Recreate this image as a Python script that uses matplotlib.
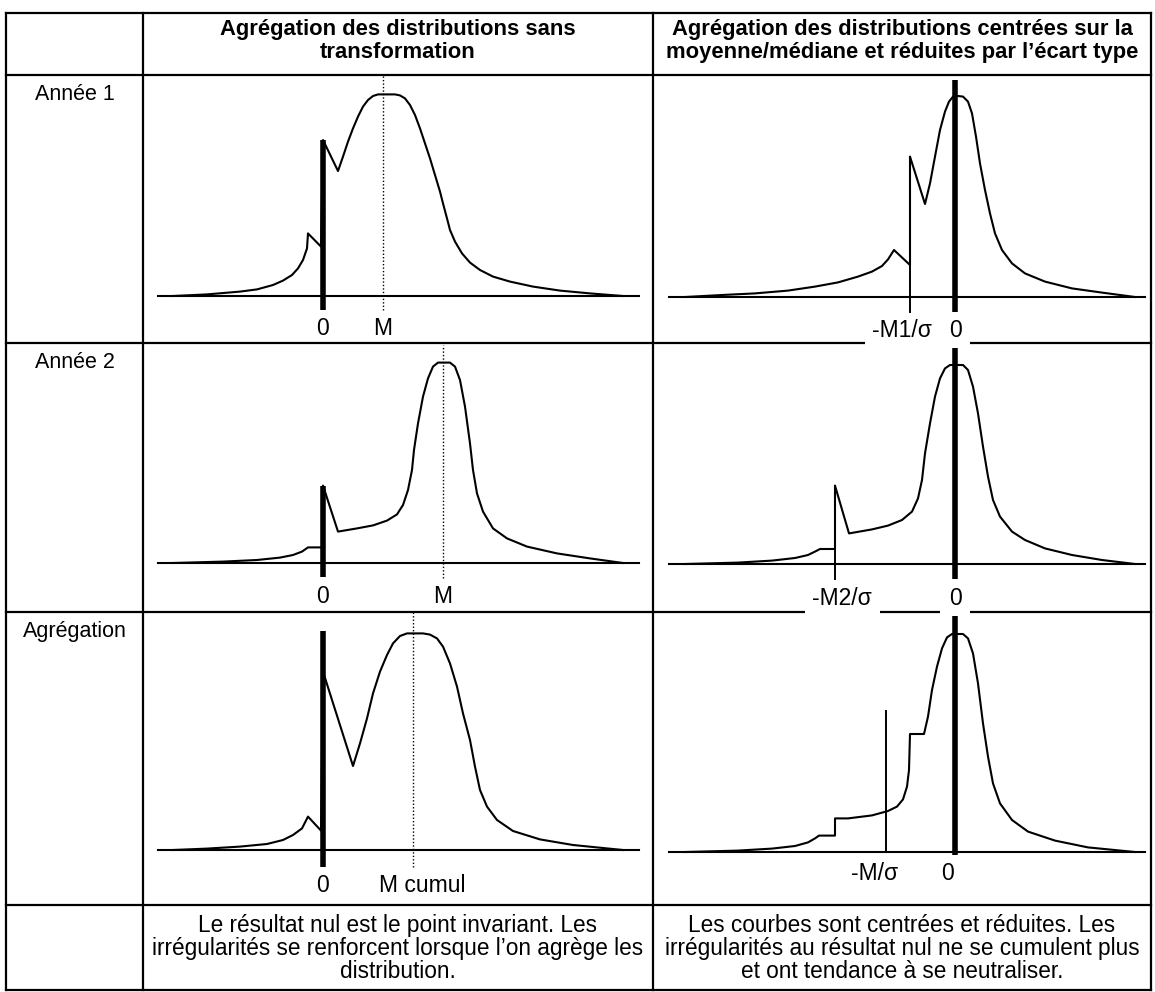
import matplotlib.pyplot as plt
from matplotlib.patches import Rectangle

plt.rcParams['font.family'] = ['Liberation Sans', 'DejaVu Sans']

# ---- textes du tableau
col_titles = [["Agrégation des distributions sans", "transformation"],
              ["Agrégation des distributions centrées sur la",
               "moyenne/médiane et réduites par l’écart type"]]
row_titles = ["Année 1", "Année 2", "Agrégation"]
footer_left = ["Le résultat nul est le point invariant. Les",
               "irrégularités se renforcent lorsque l’on agrège les",
               "distribution."]
footer_right = ["Les courbes sont centrées et réduites. Les",
                "irrégularités au résultat nul ne se cumulent plus",
                "et ont tendance à se neutraliser."]

# ---- courbes (x : 0 = résultat nul, y : densité, sommet ~100)
an1_brut_x = [-15.0, -11.6, -8.3, -6.6, -5.0, -4.0, -3.1, -2.5, -2.0, -1.6, -1.5, -0.2, 0.0,
              1.5, 2.0, 2.5, 3.0, 3.5, 4.0, 4.5, 5.0, 5.5, 7.2, 7.7, 8.2, 8.7, 9.2, 9.7, 10.2,
              10.7, 11.2, 11.7, 12.0, 12.4, 12.7, 13.2, 13.9, 14.7, 15.7, 17.0, 18.7, 21.0,
              23.7, 26.7, 30.0]
an1_brut_y = [0, 0.8, 2.2, 3.3, 5.5, 7.7, 10.5, 13.8, 18, 23.8, 31.3, 24.7, 78,
              62.5, 69.7, 77.2, 83.8, 89.7, 94.7, 98, 100, 100.8, 100.8, 100.3, 98.8, 95.5, 90.5,
              83.8, 76.3, 68.8, 60.5, 52.2, 46.3, 38.8, 33, 27.2, 21.3, 16.7, 13, 9.7, 7.2, 4.7,
              2.7, 1.3, 0]

an1_cr_x = [-27.0, -23.3, -20.0, -16.7, -14.0, -11.7, -9.7, -8.3, -7.3, -6.7, -6.1, -4.5, -4.5,
            -3.0, -2.5, -2.0, -1.5, -1.0, -0.6, -0.2, 0.3, 0.8, 1.3, 1.7, 2.1, 2.5, 3.0, 3.5,
            4.0, 4.7, 5.7, 7.0, 9.0, 11.7, 14.7, 18.0]
an1_cr_y = [0, 1, 1.8, 3.2, 5.2, 7.3, 10.2, 12.7, 15.5, 18.8, 23.5, 16, 70.2,
            46.5, 56.8, 70.2, 83.5, 92.7, 97.7, 100.2, 100.5, 100.2, 97.7, 91.8, 80.2, 66.8,
            53.5, 41.8, 31.8, 23.5, 16.8, 11.8, 7.7, 4.3, 2.2, 0]

an2_brut_x = [-15.0, -10.0, -6.6, -4.3, -3.0, -2.1, -1.5, -0.1, 0.0, 1.5, 3.4, 5.0, 6.4, 7.4,
              8.0, 8.5, 8.9, 9.1, 9.5, 10.0, 10.5, 11.0, 11.5, 12.7, 13.2, 13.7, 14.2, 14.7,
              15.0, 15.4, 16.0, 17.0, 18.4, 20.4, 23.4, 26.7, 30.0]
an2_brut_y = [0, 0.7, 1.5, 2.7, 4, 5.7, 7.8, 7.8, 38.7, 15.7, 17.3, 18.8, 21.2, 24.3,
              29, 36.5, 46.5, 56.5, 69.8, 83.2, 92.3, 98.2, 100.2, 100.2, 98.2, 91.5, 78.2, 59.8,
              46.5, 34.8, 25.7, 17.3, 12.3, 8.2, 4.8, 2.3, 0]

an2_cr_x = [-27.0, -21.7, -18.3, -16.0, -14.7, -14.0, -13.5, -12.0, -12.0, -10.6, -8.3, -6.7,
            -5.3, -4.3, -3.7, -3.3, -3.0, -2.5, -2.0, -1.5, -1.0, -0.5, 0.8, 1.3, 1.8, 2.3, 2.8,
            3.3, 3.8, 4.5, 5.7, 7.0, 9.0, 11.7, 14.7, 18.0]
an2_cr_y = [0, 0.7, 1.7, 3, 4.5, 6.2, 7.5, 7.5, 39.2, 15.3, 17.3, 19.2,
            22, 26.2, 32.8, 42, 55.3, 70.3, 83.7, 92.8, 97.8, 99.5, 99.5, 97, 88.7, 75.3, 58.7,
            43.7, 32, 23.7, 16.2, 12, 7.8, 4.5, 2, 0]

agr_brut_x = [-15.0, -11.6, -8.3, -5.6, -4.0, -3.0, -2.1, -1.5, -0.2, 0.0, 3.0, 3.7, 4.4, 5.0,
              5.7, 6.4, 7.0, 7.7, 8.4, 10.0, 10.7, 11.4, 12.0, 12.7, 13.4, 14.0, 14.7, 15.2,
              15.7, 16.4, 17.4, 19.0, 21.7, 25.0, 30.0]
agr_brut_y = [0, 0.7, 1.7, 3, 5, 7.5, 10.8, 16.7, 9.7, 89.2, 42, 53.3, 65.8, 78.3,
              89.2, 97.5, 103.3, 107, 108.3, 108.3, 107.7, 105.8, 101.7, 93.3, 81.7, 68.3, 55,
              41.7, 30, 21.7, 15, 9.5, 5.3, 2.5, 0]

agr_cr_x = [-27.0, -21.7, -18.3, -16.0, -14.7, -14.0, -13.6, -12.0, -12.0, -10.7, -8.3, -6.7,
            -5.8, -5.2, -4.8, -4.6, -4.5, -3.1, -2.7, -2.3, -1.8, -1.3, -0.8, -0.3, 0.8, 1.3,
            1.8, 2.3, 2.8, 3.3, 3.8, 4.5, 5.7, 7.3, 10.0, 13.3, 18.0]
agr_cr_y = [0, 0.7, 1.7, 3, 4.8, 6.8, 8.2, 8.2, 16.8, 16.8, 18.3, 20.5,
            22.7, 26.3, 32.7, 41, 59, 59, 67.7, 81, 92.7, 101.8, 107.3, 109, 109, 106.8,
            99.3, 84.3, 64.3, 47.7, 34.3, 24.3, 16, 10.2, 5.7, 2.3, 0]

# repères : (bas, haut) du trait épais en 0, (position, bas, haut) du repère M
zero_bars = [(-7, 78), (-7.5, 108.5), (-7, 38.5), (-7.5, 108), (-8.5, 109.5), (-1.5, 118)]
ref_lines = [(6.0, -7, 110.5), (-4.5, -7.5, 70.2), (12.0, -7.5, 109),
             (-12.0, -7.5, 39.2), (9.0, -8.5, 119), (-6.9, 0, 70.5)]
ref_dotted = [True, False, True, False, True, False]
tick_labels = [[(0, "0"), (6.0, "M")],
               [(-5.3, "-M1/σ"), (0, "0")],
               [(0, "0"), (12.0, "M")],
               [(-11.3, "-M2/σ"), (0, "0")],
               [(0, "0"), (9.9, "M cumul")],
               [(-8.0, "-M/σ"), (-0.7, "0")]]
label_y = [-19.5, -20, -20, -20.5, -21, -14]
curves = [(an1_brut_x, an1_brut_y), (an1_cr_x, an1_cr_y),
          (an2_brut_x, an2_brut_y), (an2_cr_x, an2_cr_y),
          (agr_brut_x, agr_brut_y), (agr_cr_x, agr_cr_y)]

# ---- mise en page (pixels)
W, H = 1155, 992
xs_grid = [6, 143, 653, 1151]
ys_grid = [13, 75, 343, 612, 905, 990]
zero_px = [323, 955]
base_px = [[296, 297], [563, 564], [850, 852]]
base_span = [(-16.5, 31.6), (-28.6, 19.0)]

fig = plt.figure(figsize=(W / 100, H / 100), dpi=100)
bg = fig.add_axes([0, 0, 1, 1])
bg.set_xlim(0, W)
bg.set_ylim(H, 0)
bg.axis('off')

for y in ys_grid:
    bg.plot([xs_grid[0], xs_grid[-1]], [y, y], color='black', lw=1.6, solid_capstyle='projecting')
for x in xs_grid:
    bg.plot([x, x], [ys_grid[0], ys_grid[-1]], color='black', lw=1.6, solid_capstyle='projecting')

for c, lines in enumerate(col_titles):
    cx = (xs_grid[c + 1] + xs_grid[c + 2]) / 2
    for i, t in enumerate(lines):
        bg.text(cx, 35 + 23 * i, t, ha='center', va='baseline', fontsize=15.8, fontweight='bold')

for r, t in enumerate(row_titles):
    cx = (xs_grid[0] + xs_grid[1]) / 2
    bg.text(cx, ys_grid[r + 1] + 25, t, ha='center', va='baseline', fontsize=15.5)

for c, lines in enumerate([footer_left, footer_right]):
    cx = (xs_grid[c + 1] + xs_grid[c + 2]) / 2
    for i, t in enumerate(lines):
        bg.text(cx, 932 + 23 * i, t, ha='center', va='baseline', fontsize=16.3)

for k in range(6):
    r, c = divmod(k, 2)
    x0, x1 = xs_grid[c + 1], xs_grid[c + 2]
    y0, y1 = ys_grid[r + 1], ys_grid[r + 2]
    zx, by = zero_px[c], base_px[r][c]
    ax = fig.add_axes([x0 / W, 1 - y1 / H, (x1 - x0) / W, (y1 - y0) / H])
    ax.patch.set_alpha(0)
    ax.axis('off')
    ax.set_xlim((x0 - zx) / 10, (x1 - zx) / 10)
    ax.set_ylim((by - y1) / 2, (by - y0) / 2)

    ax.plot(base_span[c], [0, 0], color='black', lw=1.5, zorder=3)
    cx, cy = curves[k]
    ax.plot(cx, cy, color='black', lw=1.5, zorder=3, solid_joinstyle='round')
    lo, hi = zero_bars[k]
    ax.plot([0, 0], [lo, hi], color='black', lw=4, solid_capstyle='butt', zorder=4)
    px, plo, phi = ref_lines[k]
    if ref_dotted[k]:
        ax.plot([px, px], [plo, phi], color='black', lw=1, ls=(0, (1, 1.5)), zorder=2)
    else:
        ax.plot([px, px], [plo, phi], color='black', lw=1.4, zorder=3)

    # caches blancs sous les étiquettes qui coupent le trait du tableau
    if k == 1:
        ax.add_patch(Rectangle((-9.0, -25.5), 10.5, 17.0, fc='white', ec='none',
                               clip_on=False, zorder=1.5))
    if k == 3:
        ax.add_patch(Rectangle((-15.0, -26.0), 7.5, 16.0, fc='white', ec='none',
                               clip_on=False, zorder=1.5))
        ax.add_patch(Rectangle((-1.5, -26.0), 3.0, 16.0, fc='white', ec='none',
                               clip_on=False, zorder=1.5))
    for pos, txt in tick_labels[k]:
        ax.text(pos, label_y[k], txt, ha='center', va='baseline', fontsize=16.5, zorder=5)

fig.savefig('out.png', dpi=100)
